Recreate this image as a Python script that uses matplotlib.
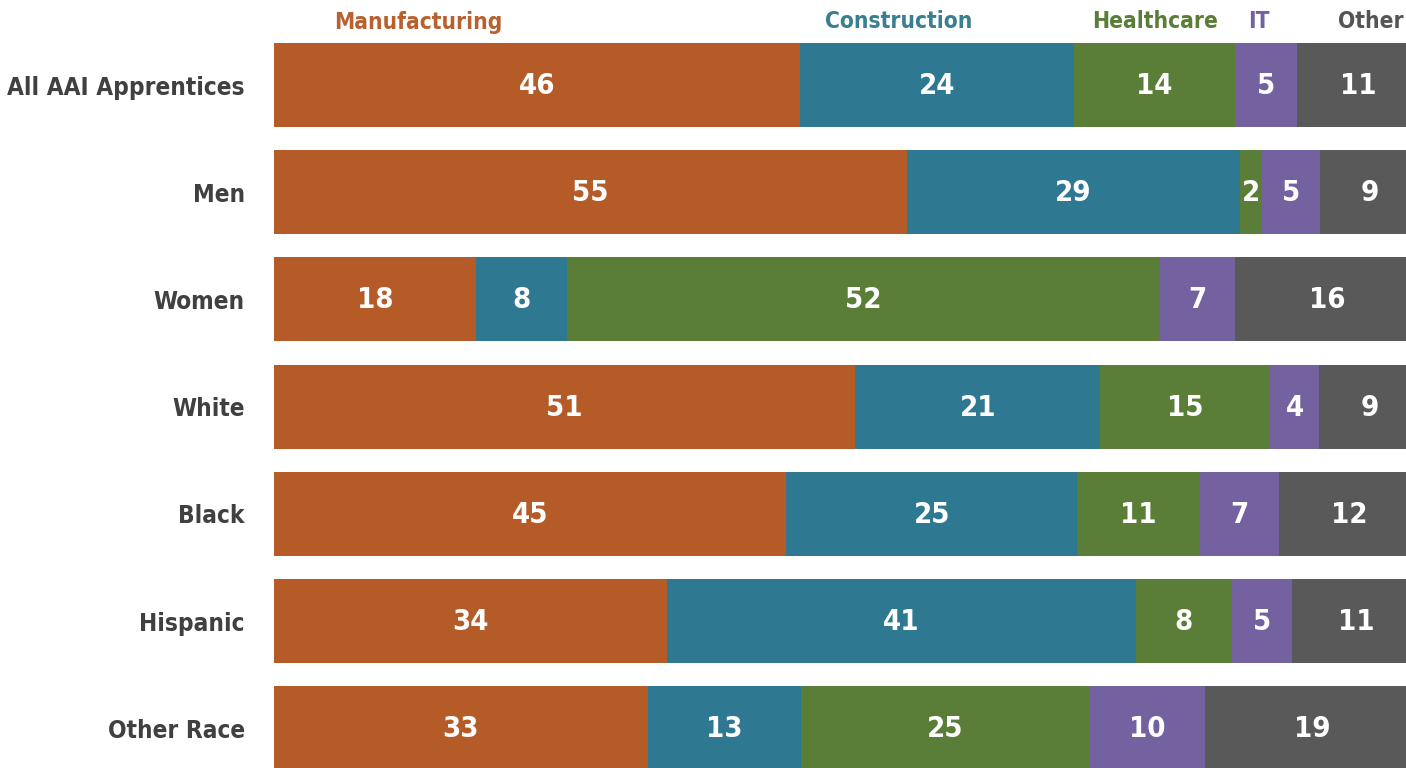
import matplotlib
matplotlib.use("Agg")
import matplotlib.pyplot as plt

categories = ["All AAI Apprentices", "Men", "Women", "White", "Black", "Hispanic", "Other Race"]
sectors = ["Manufacturing", "Construction", "Healthcare", "IT", "Other"]
manufacturing = [45.9, 55.2, 17.6, 50.7, 44.7, 34.3, 32.6]
construction = [23.9, 29.1, 8.0, 21.4, 25.4, 40.9, 13.4]
healthcare = [14.1, 1.9, 51.7, 14.8, 10.7, 8.4, 25.2]
it = [5.4, 5.1, 6.6, 4.3, 6.9, 5.2, 10.0]
other = [10.7, 8.7, 16.1, 8.8, 12.3, 11.2, 18.8]

series = [manufacturing, construction, healthcare, it, other]
bar_colors = ["#B55B27", "#2E7891", "#5A7E38", "#7462A0", "#595959"]
head_colors = ["#B8602E", "#3A7F8F", "#5A7E38", "#7462A0", "#555555"]

FONT = ["Liberation Sans Narrow", "DejaVu Sans"]
plt.rcParams["font.family"] = FONT
plt.rcParams["font.stretch"] = "condensed"

W, H = 1406, 768
fig = plt.figure(figsize=(W / 100, H / 100), dpi=100)
fig.patch.set_facecolor("white")

x0_px = 274
px_per_unit = 11.46
pitch = 107.2
row0 = 85
ax = fig.add_axes([x0_px / W, 0, 100 * px_per_unit / W, 1])
ax.set_xlim(0, 100)
ax.set_ylim((H - row0) / pitch, -row0 / pitch)

ypos = list(range(len(categories)))
left = [0.0] * len(categories)
for vals, col in zip(series, bar_colors):
    ax.barh(ypos, vals, left=left, height=84 / pitch, color=col, edgecolor="none")
    for i, v in enumerate(vals):
        ax.text(left[i] + v / 2, i + 0.01, f"{round(v):d}", ha="center", va="center",
                color="white", fontsize=21, fontweight="bold", family=FONT)
    left = [l + v for l, v in zip(left, vals)]

# header labels
head_x = [12.6, 54.5, 76.9, 85.9, 98.6]
head_ha = ["center", "center", "center", "center", "right"]
head_y = (22 - row0) / pitch
for name, hx, ha, col in zip(sectors, head_x, head_ha, head_colors):
    ax.text(hx, head_y, name, ha=ha, va="center", color=col, fontsize=16.3,
            fontweight="bold", family=FONT)

ax.set_yticks(ypos)
ax.set_yticklabels(categories, fontsize=17.5, fontweight="bold", color="#404040")
ax.tick_params(axis="y", length=0, pad=21)
ax.set_xticks([])
for s in ax.spines.values():
    s.set_visible(False)
ax.set_facecolor("none")

fig.savefig("out.png", dpi=100)
